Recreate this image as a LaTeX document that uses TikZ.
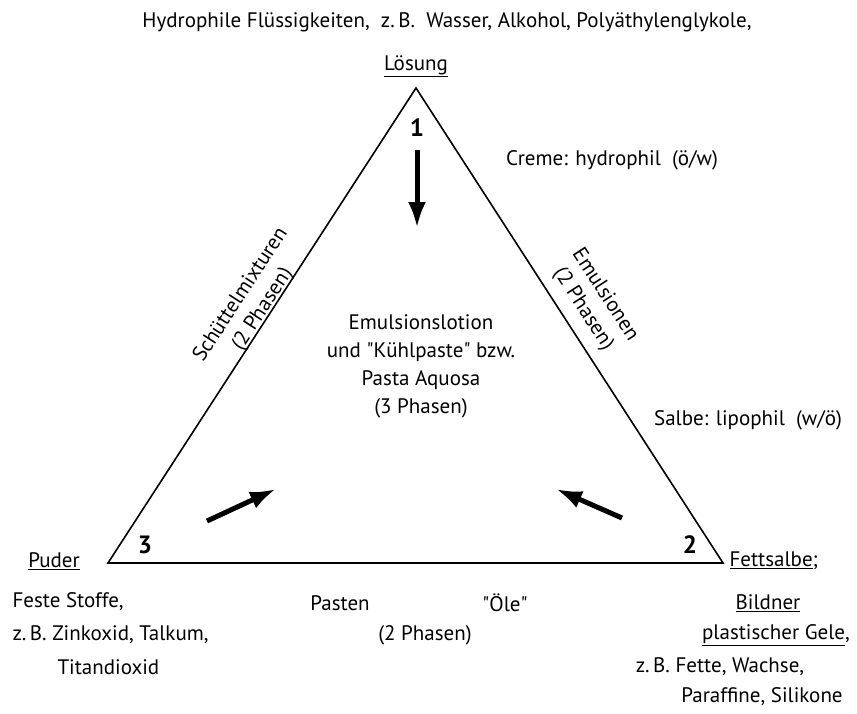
\documentclass[tikz,border=0pt]{standalone}
\usepackage{fontspec}
\setmainfont{PT Sans}
\usetikzlibrary{arrows.meta}
\begin{document}
\begin{tikzpicture}[x=1pt,y=-1pt,font=\fontsize{21}{28}\selectfont,
	pfeil/.style={line width=5pt,-{Latex[length=26pt,width=18pt]}},
	seite/.style={align=center,font=\fontsize{21}{26}\selectfont},
	ziffer/.style={font=\fontsize{25}{25}\selectfont\bfseries}]
	\useasboundingbox (0,0) rectangle (857,713);
	\path (416,88) coordinate (L)
		(723,563) coordinate (F)
		(108,563) coordinate (P);
	\draw[line width=1.6pt] (L)--(F)--(P)--cycle;
	% Ecken
	\foreach \p/\t in {{417,128}/1, {690,545}/2, {145,545}/3}{
		\node[ziffer] (z\t) at (\p) {\t};
	}
	% Pfeile
	\path (417,150) coordinate (a1) (417,228) coordinate (b1)
		(622,518) coordinate (a2) (556,489) coordinate (b2)
		(207,521) coordinate (a3) (276,489) coordinate (b3);
	\foreach \i in {1,2,3}{\draw[pfeil] (a\i)--(b\i);}
	% oben
	\node (titel) at (447,22) {Hydrophile Flüssigkeiten,\ \ z.\,B.\ \ Wasser, Alkohol, Polyäthylenglykole,};
	\node (loesung) at (416,66) {\underline{Lösung}};
	\node (creme) at (612,160) {Creme: hydrophil\ \ (ö/w)};
	% Seiten
	\node[seite,rotate=57] (schuettel) at (252,302) {Schüttelmixturen\\(2 Phasen)};
	\node[seite,rotate=-57] (emuls) at (594,302) {Emulsionen\\(2 Phasen)};
	\node[align=center] (mitte) at (421,366) {Emulsionslotion\\und \textquotedbl Kühlpaste\textquotedbl\ bzw.\\Pasta Aquosa\\(3 Phasen)};
	\node (salbe) at (748,420) {Salbe: lipophil\ \ (w/ö)};
	% unten links
	\node (puder) at (54,561) {\underline{Puder}};
	\node[anchor=west] (feste) at (9,602) {Feste Stoffe,};
	\node[anchor=west] (zink) at (9,635) {z.\,B. Zinkoxid,\ Talkum,};
	\node[anchor=west] (titan) at (54,667) {Titandioxid};
	% unten Mitte
	\node (pasten) at (340,603) {Pasten};
	\node (oele) at (505,603) {\textquotedbl Öle\textquotedbl};
	\node (phasen) at (425,635) {(2 Phasen)};
	% unten rechts
	\node[anchor=west] (fettsalbe) at (726,561) {\underline{Fettsalbe};};
	\node (bildner) at (768,603) {\underline{Bildner}};
	\node (gele) at (776,635) {\underline{plastischer Gele},};
	\node (fette) at (720,667) {z.\,B. Fette, Wachse,};
	\node (paraffine) at (762,697) {Paraffine, Silikone};
\end{tikzpicture}
\end{document}
